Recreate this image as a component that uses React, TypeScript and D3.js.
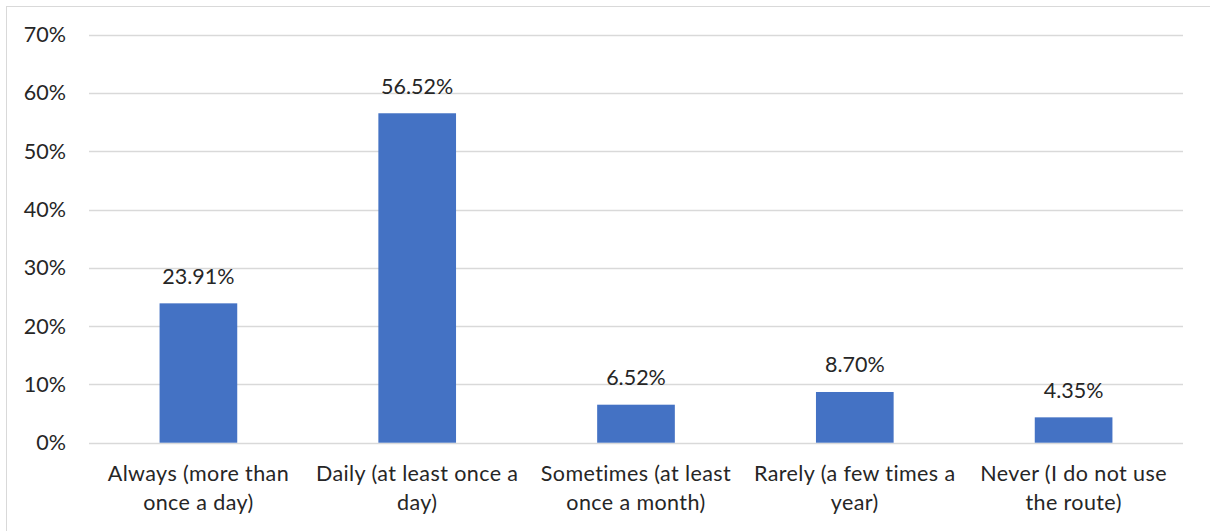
import React from "react";
import * as d3 from "d3";

const categories: string[][] = [
  ["Always (more than", "once a day)"],
  ["Daily (at least once a", "day)"],
  ["Sometimes (at least", "once a month)"],
  ["Rarely (a few times a", "year)"],
  ["Never (I do not use", "the route)"],
];
const values: number[] = [23.91, 56.52, 6.52, 8.7, 4.35];
const yTicks: number[] = [0, 10, 20, 30, 40, 50, 60, 70];

const W = 1210;
const H = 531;
const plot = { left: 89, right: 1183, top: 34.7, bottom: 442.7 };
const FONT = "Lato, 'Open Sans', sans-serif";
const TEXT = "#262626";
const GRID = "#D9D9D9";
const BAR = "#4472C4";
const FS = 21.5;

export default function App() {
  const x = d3
    .scaleBand<number>()
    .domain(d3.range(values.length))
    .range([plot.left, plot.right])
    .paddingInner(0.645)
    .paddingOuter(0.3225);
  const band = (plot.right - plot.left) / values.length;
  const y = d3.scaleLinear().domain([0, 70]).range([plot.bottom, plot.top]);

  return (
    <div style={{ position: "fixed", left: 0, top: 0, background: "#fff" }}>
      <svg width={W} height={H} style={{ display: "block" }} fontFamily={FONT}>
        <rect x={0} y={0} width={W} height={H} fill="#fff" />
        <rect x={6.5} y={6.5} width={W} height={H} fill="none" stroke={GRID} strokeWidth={1} />
        {yTicks.map((t) => (
          <g key={t}>
            <line
              x1={plot.left}
              x2={plot.right}
              y1={Math.round(y(t)) + 0.5}
              y2={Math.round(y(t)) + 0.5}
              stroke={GRID}
              strokeWidth={1.5}
            />
            <text x={66} y={y(t) + 7.5} textAnchor="end" fontSize={FS} fill={TEXT}>
              {`${t}%`}
            </text>
          </g>
        ))}
        {values.map((v, i) => (
          <g key={i}>
            <rect
              x={x(i)}
              y={y(v)}
              width={x.bandwidth()}
              height={plot.bottom - y(v)}
              fill={BAR}
            />
            <text
              x={x(i)! + x.bandwidth() / 2}
              y={y(v) - 19.5}
              textAnchor="middle"
              fontSize={FS}
              fill={TEXT}
            >
              {`${v.toFixed(2)}%`}
            </text>
          </g>
        ))}
        {categories.map((lines, i) => (
          <text
            key={i}
            x={plot.left + band * (i + 0.5)}
            y={481}
            textAnchor="middle"
            fontSize={FS}
            letterSpacing={0.4}
            fill={TEXT}
          >
            {lines.map((l, j) => (
              <tspan key={j} x={plot.left + band * (i + 0.5)} dy={j === 0 ? 0 : 29.3}>
                {l}
              </tspan>
            ))}
          </text>
        ))}
      </svg>
    </div>
  );
}
